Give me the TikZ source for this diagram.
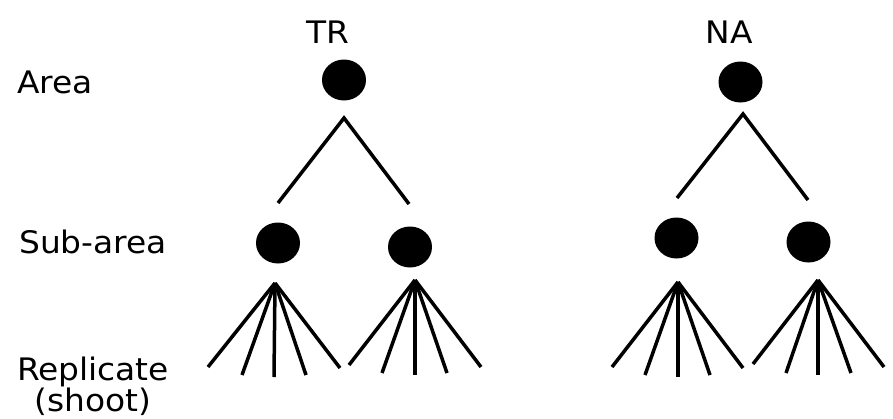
\documentclass[tikz,border=0pt]{standalone}
\usepackage{fontspec}
\setmainfont{DejaVu Sans}[FakeStretch=1.06]
\usetikzlibrary{shapes.geometric}
\begin{document}
\begin{tikzpicture}[x=1pt,y=-1pt,
  lbl/.style={inner sep=0pt,font=\fontsize{31}{36}\selectfont},
  dot/.style={ellipse,fill=black,draw=none,minimum width=44pt,minimum height=41pt,inner sep=0pt},
  edge/.style={line width=3.5pt,black}]
\useasboundingbox (0,0) rectangle (893,418);
% labels
\node[lbl,anchor=base] (tr) at (328,43) {TR};
\node[lbl,anchor=base] (na) at (729,43) {NA};
\node[lbl,anchor=base west] (area) at (17,93) {Area};
\node[lbl,anchor=base west] (sub) at (19,253) {Sub-area};
\node[lbl,anchor=base] (rep) at (93,380) {Replicate};
\node[lbl,anchor=base] (shoot) at (93,411) {(shoot)};
% TR tree
\node[dot] (trA) at (344,80) {};
\node[dot] (trS1) at (278,243) {};
\node[dot] (trS2) at (410,247) {};
\coordinate (trApex) at (344,118);
\coordinate (trL) at (278,203);
\coordinate (trR) at (409,204);
\draw[edge] (trL) -- (trApex) -- (trR);
\coordinate (trF1) at (275,283);
\foreach \x/\y [count=\i] in {208/367,242/375,274/377,306/375,340/368}{
  \coordinate (trF1e\i) at (\x,\y);
  \draw[edge] (trF1) -- (trF1e\i);
}
\coordinate (trF2) at (415,280);
\foreach \x/\y [count=\i] in {349/365,382/373,415/375,447/373,481/367}{
  \coordinate (trF2e\i) at (\x,\y);
  \draw[edge] (trF2) -- (trF2e\i);
}
% NA tree
\node[dot] (naA) at (740.5,82) {};
\node[dot] (naS1) at (676.5,238) {};
\node[dot] (naS2) at (808.5,242) {};
\coordinate (naApex) at (743,114);
\coordinate (naL) at (677,198);
\coordinate (naR) at (808,200);
\draw[edge] (naL) -- (naApex) -- (naR);
\coordinate (naF1) at (678,282);
\foreach \x/\y [count=\i] in {612/367,645/375,678/377,710/375,743/368}{
  \coordinate (naF1e\i) at (\x,\y);
  \draw[edge] (naF1) -- (naF1e\i);
}
\coordinate (naF2) at (818,280);
\foreach \x/\y [count=\i] in {753/364,786/373,818/375,851/373,884/367}{
  \coordinate (naF2e\i) at (\x,\y);
  \draw[edge] (naF2) -- (naF2e\i);
}
\end{tikzpicture}
\end{document}
